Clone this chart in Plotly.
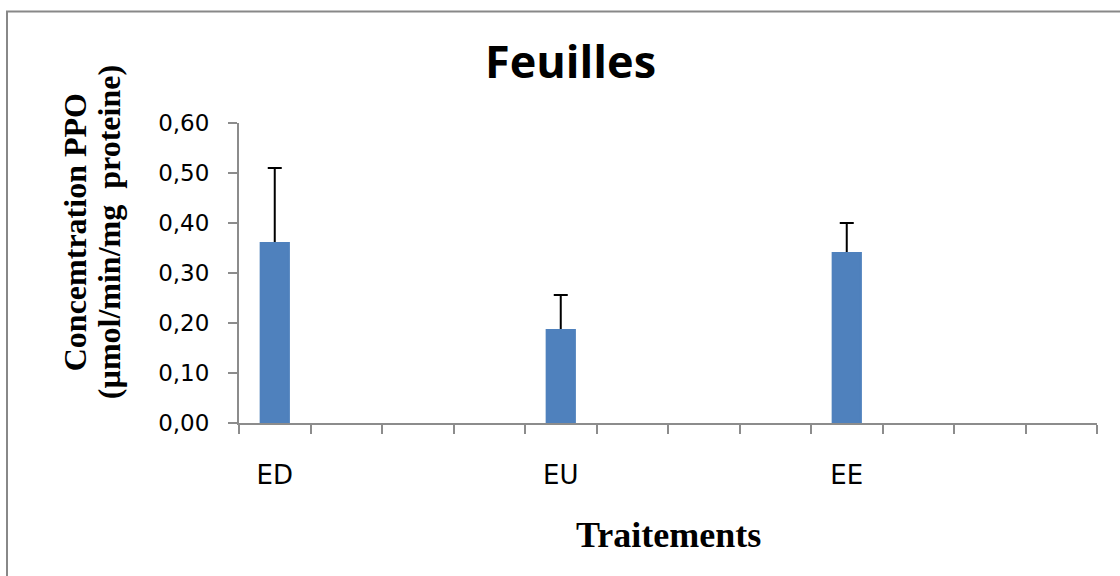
import plotly.graph_objects as go

# Treatments and measured PPO activity (mean and upper error)
categories = ["ED", "EU", "EE"]
ppo_mean = [0.36, 0.186, 0.34]
ppo_err = [0.15, 0.07, 0.06]

# Category slot layout on the x axis (12 slots, treatments every 4th slot)
n_slots = 12
slot_step = 4
positions = [i * slot_step for i in range(len(categories))]

y_ticks = [0.0, 0.1, 0.2, 0.3, 0.4, 0.5, 0.6]

BAR_COLOR = "#4F81BD"
AXIS_GRAY = "#8C8C8C"

fig = go.Figure()

# bars carrying the positive-only error bars
fig.add_trace(go.Bar(
    x=positions, y=ppo_mean, width=0.39,
    marker=dict(color=BAR_COLOR, line=dict(color=BAR_COLOR, width=2)),
    error_y=dict(type="data", symmetric=False, array=ppo_err,
                 arrayminus=[0] * len(ppo_err),
                 color="black", thickness=2, width=7),
    showlegend=False, hoverinfo="skip",
))
# same bars drawn again on top so only the upper whisker shows
fig.add_trace(go.Bar(
    x=positions, y=ppo_mean, width=0.39,
    marker=dict(color=BAR_COLOR, line=dict(color=BAR_COLOR, width=2)),
    showlegend=False,
))

boundaries = [b - 0.5 for b in range(n_slots + 1)]

serif = dict(family="Liberation Serif", size=32, color="black")

fig.update_layout(
    width=1120, height=576,
    margin=dict(l=239, r=23, t=123, b=153),
    paper_bgcolor="white", plot_bgcolor="white",
    barmode="overlay",
    separators=", ",
    xaxis=dict(
        range=[-0.5, n_slots - 0.5],
        tickmode="array", tickvals=positions, ticktext=categories,
        ticks="", showgrid=False, zeroline=False,
        showline=True, linecolor=AXIS_GRAY, linewidth=2,
        tickfont=dict(family="DejaVu Sans", size=26, color="black"),
        ticklabelstandoff=28,
        minor=dict(tickmode="array", tickvals=boundaries, ticks="outside",
                   ticklen=9, tickwidth=2, tickcolor=AXIS_GRAY, showgrid=False),
    ),
    yaxis=dict(
        range=[0, 0.6],
        tickmode="array", tickvals=y_ticks, tickformat=".2f",
        ticks="outside", ticklen=9, tickwidth=2, tickcolor=AXIS_GRAY,
        showgrid=False, zeroline=False,
        showline=True, linecolor=AXIS_GRAY, linewidth=2,
        tickfont=dict(family="DejaVu Sans", size=23, color="black"),
        ticklabelstandoff=14,
    ),
    annotations=[
        dict(text="<b>Feuilles</b>", xref="paper", yref="paper",
             x=0.386, y=1.2086, xanchor="center", yanchor="middle",
             showarrow=False,
             font=dict(family="Open Sans", size=45, color="black")),
        dict(text="<b>Traitements</b>", xref="paper", yref="paper",
             x=0.5, y=-0.372, xanchor="center", yanchor="middle",
             showarrow=False,
             font=dict(family="Liberation Serif", size=36, color="black")),
        dict(text="<b>Concemtration PPO</b>",
             xref="paper", yref="paper",
             x=-0.1911, y=0.636, xanchor="center", yanchor="middle",
             textangle=-90, showarrow=False, font=serif),
        dict(text="<b>(µmol/min/mg  proteine)</b>",
             xref="paper", yref="paper",
             x=-0.1515, y=0.636, xanchor="center", yanchor="middle",
             textangle=-90, showarrow=False, font=serif),
    ],
    shapes=[
        dict(type="rect", xref="paper", yref="paper",
             x0=-0.2704, y0=-0.7, x1=1.2, y1=1.3716,
             line=dict(color="#888888", width=2), layer="below"),
    ],
)

fig.write_html("out.html")
